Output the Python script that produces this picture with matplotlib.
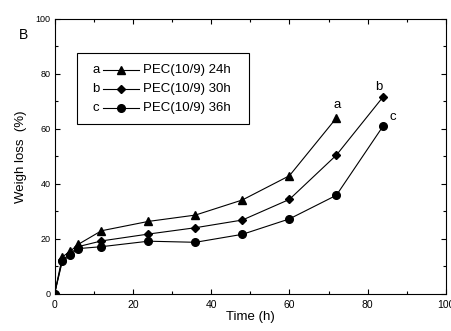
import matplotlib
matplotlib.use("Agg")
import matplotlib.pyplot as plt
from matplotlib.patches import Rectangle
from matplotlib.ticker import MultipleLocator

plt.rcParams["font.family"] = ["Liberation Sans", "DejaVu Sans"]

# Degradation data (time in hours, weight loss in %)
time_a = [0, 2, 4, 6, 12, 24, 36, 48, 60, 72]
loss_a = [0, 13.5, 15.5, 18.0, 23.0, 26.4, 28.7, 34.2, 43.0, 64.0]

time_b = [0, 2, 4, 6, 12, 24, 36, 48, 60, 72, 84]
loss_b = [0, 12.5, 14.5, 17.2, 19.3, 21.8, 24.1, 26.9, 34.4, 50.5, 71.8]

time_c = [0, 2, 4, 6, 12, 24, 36, 48, 60, 72, 84]
loss_c = [0, 12.0, 14.0, 16.5, 17.2, 19.2, 18.8, 21.7, 27.3, 35.9, 61.2]

series_labels = ["PEC(10/9) 24h", "PEC(10/9) 30h", "PEC(10/9) 36h"]
series_tags = ["a", "b", "c"]
markers = ["^", "D", "o"]
marker_sizes = [5.5, 4.2, 5.5]

# where the end-of-curve tags sit (data coords)
tag_x = [72.3, 82.9, 86.4]
tag_y = [68.7, 75.4, 64.3]

fig = plt.figure(figsize=(4.52, 3.31), dpi=100)
ax = fig.add_axes([0.1206, 0.1118, 0.8661, 0.8308])

series = [(time_a, loss_a), (time_b, loss_b), (time_c, loss_c)]
for (t, y), m, ms in zip(series, markers, marker_sizes):
    ax.plot(t, y, color="black", lw=0.8, marker=m, ms=ms,
            markerfacecolor="black", markeredgecolor="black")

for tag, x, y in zip(series_tags, tag_x, tag_y):
    ax.text(x, y, tag, fontsize=9.5, ha="center", va="center")

# hand-built legend: letter, line with marker, label
ax.add_patch(Rectangle((0.057, 0.618), 0.4406, 0.259, transform=ax.transAxes,
                       fill=False, lw=0.8, edgecolor="black", zorder=3))
rows = [0.8145, 0.744, 0.675]
for tag, label, m, ms, ry in zip(series_tags, series_labels, markers,
                                 marker_sizes, rows):
    ax.text(0.106, ry, tag, transform=ax.transAxes, fontsize=9.5,
            ha="center", va="center")
    ax.plot([0.123, 0.2166], [ry, ry], transform=ax.transAxes, color="black",
            lw=0.8, clip_on=False)
    ax.plot([0.1698], [ry], transform=ax.transAxes, color="black",
            marker=m, ms=ms, clip_on=False)
    ax.text(0.226, ry, label, transform=ax.transAxes, fontsize=9.5,
            ha="left", va="center")

ax.set_xlim(0, 100)
ax.set_ylim(0, 100)
ax.xaxis.set_major_locator(MultipleLocator(20))
ax.xaxis.set_minor_locator(MultipleLocator(10))
ax.yaxis.set_major_locator(MultipleLocator(20))
ax.yaxis.set_minor_locator(MultipleLocator(10))
ax.tick_params(which="both", direction="in", top=True, right=True, width=0.8)
ax.tick_params(which="major", length=3.5)
ax.tick_params(which="minor", length=2.2)
ax.tick_params(axis="x", labelsize=7.5, pad=4)
ax.tick_params(axis="y", labelsize=6.5, pad=3)
for sp in ax.spines.values():
    sp.set_linewidth(0.8)

ax.set_xlabel("Time (h)", fontsize=9.5, labelpad=1)
ax.set_ylabel("Weigh loss  (%)", fontsize=9.5, labelpad=6)
fig.text(0.051, 0.893, "B", fontsize=10, ha="center", va="center")

fig.savefig("out.png", dpi=100)
